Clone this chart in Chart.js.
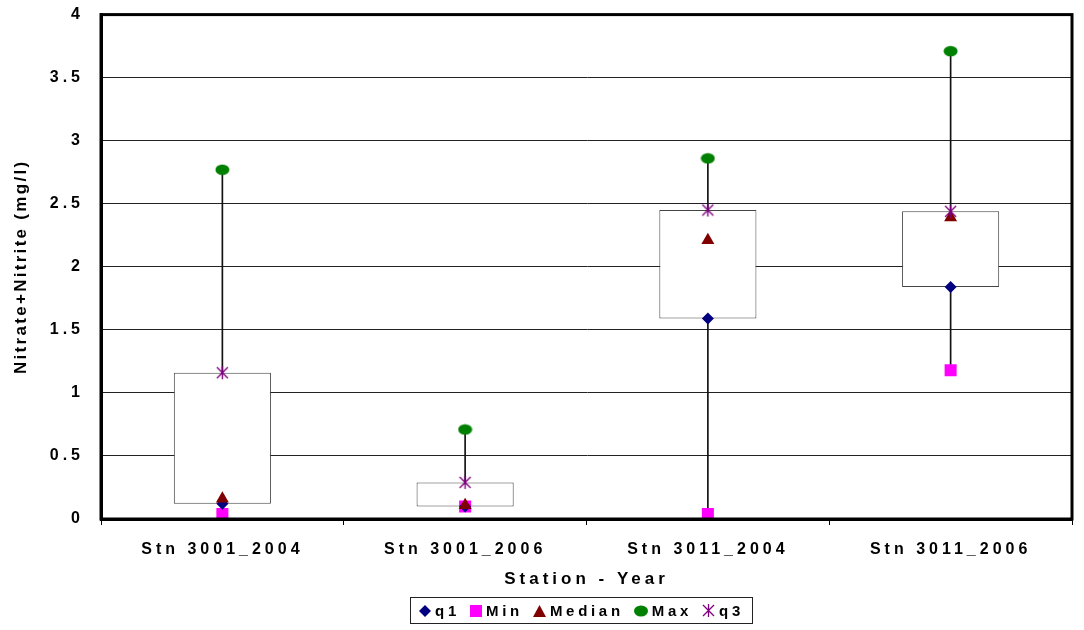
<!DOCTYPE html>
<html lang="en">
<head>
    <meta charset="UTF-8">
    <script src="https://cdn.jsdelivr.net/npm/chart.js"></script>
    <title>Nitrate+Nitrite box plot</title>
    <style>
        body { margin: 0; padding: 0; background: #fff; font-family: Arial, "Liberation Sans", sans-serif; }
        #wrap { position: relative; width: 1084px; height: 630px; }
        #legend {
            position: absolute; left: 410px; top: 597px; width: 343px; height: 27px;
            border: 1px solid #222; box-sizing: border-box;
            display: flex; align-items: center; justify-content: center;
            font-weight: bold; font-size: 15px; letter-spacing: 3.7px; color: #000;
        }
        #legend span { display: inline-flex; align-items: center; margin: 0 5px; }
        #legend svg { margin-right: 4px; }
    </style>
</head>
<body>
<div id="wrap">
    <canvas id="boxChart" width="1084" height="630"></canvas>
    <div id="legend"></div>
</div>
<script>
    // data
    const stations = ['Stn 3001_2004', 'Stn 3001_2006', 'Stn 3011_2004', 'Stn 3011_2006'];
    const q1     = [0.12, 0.10, 1.59, 1.84];
    const minVal = [0.04, 0.10, 0.04, 1.18];
    const median = [0.16, 0.11, 2.21, 2.39];
    const maxVal = [2.77, 0.71, 2.86, 3.71];
    const q3     = [1.16, 0.29, 2.45, 2.44];
    const yTicks = [0, 0.5, 1, 1.5, 2, 2.5, 3, 3.5, 4];

    const FONT = 'Arial, "Liberation Sans", sans-serif';

    // marker for q3 (asterisk) and Max (flat ellipse)
    function starMarker() {
        const c = document.createElement('canvas');
        c.width = 15; c.height = 15;
        const g = c.getContext('2d');
        g.strokeStyle = '#800080'; g.lineWidth = 1.4;
        g.beginPath();
        g.moveTo(2, 2); g.lineTo(13, 13);
        g.moveTo(13, 2); g.lineTo(2, 13);
        g.moveTo(7.5, 1); g.lineTo(7.5, 14);
        g.stroke();
        return c;
    }
    function ellipseMarker() {
        const c = document.createElement('canvas');
        c.width = 15; c.height = 12;
        const g = c.getContext('2d');
        g.fillStyle = '#008000';
        g.beginPath();
        g.ellipse(7.5, 6, 7, 5.3, 0, 0, Math.PI * 2);
        g.fill();
        return c;
    }

    const SP = '4px';
    const spacing = {
        id: 'spacing',
        beforeUpdate(chart) { chart.ctx.letterSpacing = SP; },
        beforeLayout(chart) { chart.ctx.letterSpacing = SP; },
        beforeDraw(chart) { chart.ctx.letterSpacing = SP; },
        afterDraw(chart) {
            const ctx = chart.ctx, a = chart.chartArea;
            ctx.save();
            ctx.strokeStyle = '#000';
            ctx.lineWidth = 3;
            ctx.strokeRect(a.left, a.top, a.right - a.left, a.bottom - a.top);
            // y axis title
            ctx.letterSpacing = '2.3px';
            ctx.fillStyle = '#000';
            ctx.font = 'bold 17px ' + FONT;
            ctx.textAlign = 'center';
            ctx.textBaseline = 'middle';
            ctx.translate(21, (a.top + a.bottom) / 2);
            ctx.rotate(-Math.PI / 2);
            ctx.fillText('Nitrate+Nitrite (mg/l)', 0, 0);
            ctx.restore();
        }
    };

    const ctx = document.getElementById('boxChart').getContext('2d');
    new Chart(ctx, {
        type: 'bar',
        data: {
            labels: stations,
            datasets: [
                {
                    label: 'whisker',
                    data: minVal.map((v, i) => [v, maxVal[i]]),
                    backgroundColor: '#111',
                    barThickness: 1,
                    grouped: false,
                    order: 10
                },
                {
                    label: 'box',
                    data: q1.map((v, i) => [v, q3[i]]),
                    backgroundColor: '#fff',
                    borderColor: '#444',
                    borderWidth: 1,
                    borderSkipped: false,
                    barPercentage: 0.4,
                    categoryPercentage: 1,
                    grouped: false,
                    order: 9
                },
                { type: 'line', label: 'Min', data: minVal, showLine: false, pointStyle: 'rect', pointRadius: 8.5, backgroundColor: '#ff00ff', borderColor: '#ff00ff', borderWidth: 0, order: 5 },
                { type: 'line', label: 'q1', data: q1, showLine: false, pointStyle: 'rectRot', pointRadius: 6, backgroundColor: '#000080', borderColor: '#000080', borderWidth: 0, order: 4 },
                { type: 'line', label: 'Median', data: median, showLine: false, pointStyle: 'triangle', pointRadius: 7.5, backgroundColor: '#800000', borderColor: '#800000', borderWidth: 0, order: 3 },
                { type: 'line', label: 'Max', data: maxVal, showLine: false, pointStyle: ellipseMarker(), order: 2 },
                { type: 'line', label: 'q3', data: q3, showLine: false, pointStyle: starMarker(), order: 1 }
            ]
        },
        options: {
            responsive: false,
            animation: false,
            layout: { padding: { left: 0, right: 12, top: 3, bottom: 40 } },
            plugins: { legend: { display: false }, tooltip: { enabled: false } },
            scales: {
                x: {
                    offset: true,
                    grid: { offset: true, drawOnChartArea: false, color: '#000', tickLength: 6 },
                    border: { color: '#000', width: 3 },
                    ticks: { color: '#000', font: { family: FONT, size: 16, weight: 'bold' }, padding: 15, maxRotation: 0 },
                    title: { display: true, text: 'Station - Year', color: '#000', font: { family: FONT, size: 17, weight: 'bold' }, padding: { top: 11, bottom: 0 } },
                    afterFit(scale) { scale.height = 71; }
                },
                y: {
                    min: 0,
                    max: 4,
                    afterBuildTicks(scale) { scale.ticks = yTicks.map(v => ({ value: v })); },
                    grid: { color: '#222', lineWidth: 1, tickLength: 12, tickColor: 'rgba(0,0,0,0)' },
                    border: { color: '#000', width: 3 },
                    ticks: { color: '#000', font: { family: FONT, size: 16, weight: 'bold' }, padding: 5, callback: v => String(v) },
                    afterFit(scale) { scale.width = 101; }
                }
            }
        },
        plugins: [spacing]
    });

    // legend below the chart
    const legendItems = [
        ['q1', '<svg width="12" height="12"><polygon points="6,0 12,6 6,12 0,6" fill="#000080"/></svg>'],
        ['Min', '<svg width="12" height="12"><rect width="12" height="12" fill="#ff00ff"/></svg>'],
        ['Median', '<svg width="13" height="12"><polygon points="6.5,0 13,12 0,12" fill="#800000"/></svg>'],
        ['Max', '<svg width="14" height="12"><ellipse cx="7" cy="6" rx="7" ry="5.5" fill="#008000"/></svg>'],
        ['q3', '<svg width="13" height="13"><path d="M1 1L12 12M12 1L1 12M6.5 0V13" stroke="#800080" stroke-width="1.3"/></svg>']
    ];
    document.getElementById('legend').innerHTML = legendItems
        .map(it => '<span>' + it[1] + it[0] + '</span>').join('');
</script>
</body>
</html>
